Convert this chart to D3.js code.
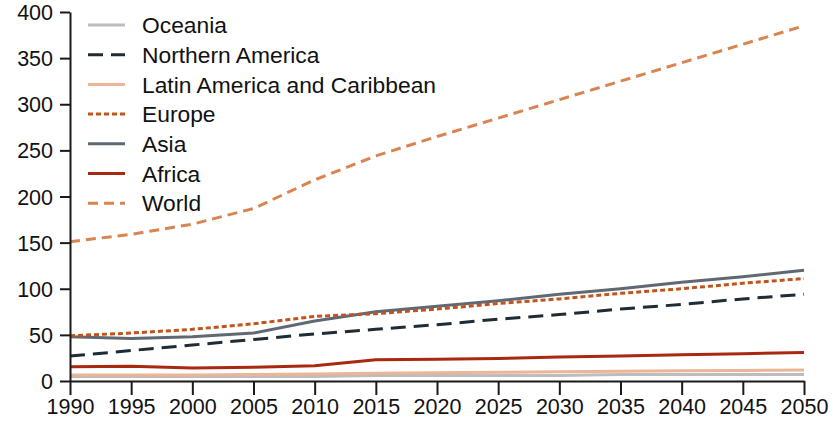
<!DOCTYPE html>
<html><head><meta charset="utf-8">
<script src="https://cdn.jsdelivr.net/npm/d3@7"></script>
<style>
html,body{margin:0;padding:0;background:#fff;}
svg{display:block;font-family:"Liberation Sans",Arial,sans-serif;}
</style></head>
<body><svg id="c" width="835" height="422"></svg>
<script>
const years = [1990,1995,2000,2005,2010,2015,2020,2025,2030,2035,2040,2045,2050];
const yTicks = [0,50,100,150,200,250,300,350,400];
const seriesNames = ["Oceania","Northern America","Latin America and Caribbean","Europe","Asia","Africa","World"];
const oceania  = [5,5,5,5,5,6,6,6,6,7,7,7,7];
const northernAmerica = [27,33,39,45,51,56,61,67,72,78,83,89,94];
const latinAmerica = [6.5,6.5,6.5,7,7.5,8.5,9,9.5,10,10.5,11,11.5,12];
const europe = [49,52,56,62,70,73,78,84,89,95,100,106,111];
const asia   = [48,46,48,52,65,75,81,87,94,100,107,113,120];
const africa = [15.5,16,14,15,16.5,23,23.5,24.5,26,27,28.5,29.5,31];
const world  = [151,159,170,187,218,244,265,285,305,325,345,365,385];

const styles = {
  "Oceania":{color:"#bdbdbd",dash:null,w:3},
  "Northern America":{color:"#1f2b35",dash:"15,8",w:3},
  "Latin America and Caribbean":{color:"#ebb597",dash:null,w:3},
  "Europe":{color:"#c1531c",dash:"5,3",w:3},
  "Asia":{color:"#606873",dash:null,w:3},
  "Africa":{color:"#a8290f",dash:null,w:3},
  "World":{color:"#d98451",dash:"10,6",w:3}
};
const valuesByName = {
  "Oceania":oceania,"Northern America":northernAmerica,"Latin America and Caribbean":latinAmerica,
  "Europe":europe,"Asia":asia,"Africa":africa,"World":world
};

const svg = d3.select("#c");
const x = d3.scaleLinear().domain([1990,2050]).range([70,804]);
const y = d3.scaleLinear().domain([0,400]).range([381,12]);

const line = d3.line().x((d,i)=>x(years[i])).y(d=>y(d));

const drawOrder = ["Oceania","Latin America and Caribbean","Africa","Northern America","Asia","Europe","World"];
drawOrder.forEach(n=>{
  const s = styles[n];
  svg.append("path").datum(valuesByName[n])
    .attr("d",line).attr("fill","none")
    .attr("stroke",s.color).attr("stroke-width",s.w)
    .attr("stroke-dasharray",s.dash).attr("stroke-linejoin","round");
});

const yAxis = d3.axisLeft(y).tickValues(yTicks).tickSize(10).tickSizeOuter(0).tickPadding(7);
const gy = svg.append("g").attr("transform","translate(70,0)").call(yAxis);
const xAxis = d3.axisBottom(x).tickValues(years).tickFormat(d3.format("d")).tickSize(14).tickSizeOuter(0).tickPadding(4);
const gx = svg.append("g").attr("transform","translate(0,381)").call(xAxis);
[gx,gy].forEach(g=>{
  g.selectAll("path.domain").attr("stroke","#1a1a1a").attr("stroke-width",2);
  g.selectAll(".tick line").attr("stroke","#1a1a1a").attr("stroke-width",2);
  g.selectAll("text").attr("fill","#111").style("font-size","21.5px").style("font-family","'Liberation Sans',Arial,sans-serif");
});
gx.selectAll("text").attr("dy","0.71em");
gy.selectAll("text").attr("dy","0.35em");

const leg = svg.append("g");
seriesNames.forEach((n,i)=>{
  const s = styles[n];
  const cy = 25 + i*29.7;
  leg.append("line").attr("x1",88).attr("x2",125).attr("y1",cy).attr("y2",cy)
    .attr("stroke",s.color).attr("stroke-width",s.w).attr("stroke-dasharray",s.dash);
  leg.append("text").attr("x",142).attr("y",cy).attr("dy","0.36em")
    .attr("fill","#111").style("font-size","22.8px").text(n);
});
</script></body></html>
